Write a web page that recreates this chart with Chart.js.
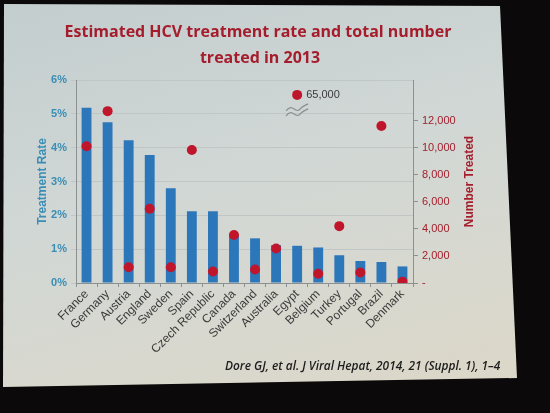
<!DOCTYPE html>
<html><head><meta charset="utf-8">
<script src="https://cdn.jsdelivr.net/npm/chart.js@4.4.0/dist/chart.umd.min.js"></script>
<style>
html,body{margin:0;padding:0;width:550px;height:413px;overflow:hidden;background:#0b0909;}
#slide{position:absolute;left:0;top:0;width:550px;height:413px;
 background: linear-gradient(165deg,#c3cdce 0%,#d0d7d5 40%,#d8d8cf 70%,#ddd7c6 100%);
 clip-path: polygon(4px 4px, 500px 6px, 517px 378px, 3px 387px);}
#wrap{position:absolute;left:0;top:0;width:550px;height:413px;}
#cite{position:absolute;left:225px;top:357px;font:italic 600 11.9px "Open Sans";color:#1c1c1c;white-space:nowrap;}
</style></head>
<body>
<div id="slide"></div>
<div id="wrap"><canvas id="c" width="550" height="413"></canvas></div>
<div id="cite">Dore GJ, et al. J Viral Hepat, 2014, 21 (Suppl. 1), 1–4</div>
<script>
const countries = ['France','Germany','Austria','England','Sweden','Spain','Czech Republic','Canada','Switzerland','Australia','Egypt','Belgium','Turkey','Portugal','Brazil','Denmark'];
const treatmentRate = [5.18, 4.75, 4.22, 3.78, 2.8, 2.12, 2.12, 1.4, 1.32, 1.12, 1.1, 1.05, 0.82, 0.65, 0.62, 0.49];
const numberTreated = [10100, 12700, 1170, 5480, 1170, 9830, 850, 3550, 1000, 2550, 65000, 680, 4200, 780, 11600, 100];
const rateTicks = [0, 1, 2, 3, 4, 5, 6];
const numberTicks = [0, 2000, 4000, 6000, 8000, 10000, 12000];
const numberAxisMax = 15000;
const brokenDisplayValue = 13900;
const titleLines = ['Estimated HCV treatment rate and total number', 'treated in 2013'];

const teal = '#3a8db5';
const darkRed = '#a3202e';
const axisGray = '#8c9090';

const dotValues = numberTreated.map(v => v > numberAxisMax ? brokenDisplayValue : v);

const extras = {
  id: 'extras',
  afterDraw(chart) {
    const ctx = chart.ctx;
    ctx.save();
    ctx.fillStyle = '#a51d2d';
    ctx.font = 'bold 16px "Open Sans"';
    ctx.textAlign = 'center';
    ctx.textBaseline = 'middle';
    ctx.fillText(titleLines[0], 258, 32);
    ctx.fillText(titleLines[1], 260, 58);
    ctx.restore();
  },
  afterDatasetsDraw(chart) {
    const ctx = chart.ctx;
    const meta = chart.getDatasetMeta(1);
    numberTreated.forEach((v, i) => {
      if (v <= numberAxisMax) return;
      const pt = meta.data[i];
      ctx.save();
      ctx.fillStyle = '#3a3a3a';
      ctx.font = '11px "Liberation Sans"';
      ctx.textAlign = 'left';
      ctx.textBaseline = 'middle';
      ctx.fillText(v.toLocaleString('en-US'), pt.x + 9, pt.y);
      ctx.strokeStyle = '#8a8e8e';
      ctx.lineWidth = 1.3;
      for (const dy of [13, 18]) {
        ctx.beginPath();
        const x0 = pt.x - 11, y0 = pt.y + dy + 3;
        ctx.moveTo(x0, y0);
        ctx.bezierCurveTo(x0 + 6, y0 - 9, x0 + 10, y0 + 4, x0 + 14, y0 - 2);
        ctx.bezierCurveTo(x0 + 17, y0 - 5, x0 + 20, y0 - 6, x0 + 22, y0 - 7);
        ctx.stroke();
      }
      ctx.restore();
    });
    const ca = chart.chartArea;
    ctx.save();
    ctx.translate(ca.right + 57, (ca.top + ca.bottom) / 2);
    ctx.rotate(-Math.PI / 2);
    ctx.fillStyle = darkRed;
    ctx.font = 'bold 12px "Liberation Sans"';
    ctx.textAlign = 'center';
    ctx.textBaseline = 'middle';
    ctx.fillText('Number Treated', 0, 0);
    ctx.restore();
  }
};

new Chart(document.getElementById('c'), {
  data: {
    labels: countries,
    datasets: [
      {
        type: 'bar',
        label: 'Treatment Rate',
        data: treatmentRate,
        backgroundColor: '#2c76ba',
        yAxisID: 'y',
        categoryPercentage: 0.9,
        barPercentage: 0.52,
        order: 2
      },
      {
        type: 'line',
        label: 'Number Treated',
        data: dotValues,
        showLine: false,
        pointRadius: 5,
        pointBackgroundColor: '#c0162c',
        pointBorderWidth: 0,
        yAxisID: 'y2',
        order: 1
      }
    ]
  },
  options: {
    responsive: false,
    devicePixelRatio: 1,
    animation: false,
    layout: { padding: { top: 80, left: 0, right: 0, bottom: 0 } },
    plugins: {
      legend: { display: false },
      tooltip: { enabled: false },
      title: { display: false }
    },
    scales: {
      x: {
        type: 'category',
        offset: true,
        grid: { display: true, drawOnChartArea: false, offset: true, color: axisGray, tickLength: 4 },
        border: { color: axisGray },
        ticks: { maxRotation: 45, minRotation: 45, autoSkip: false, color: '#3a3a3a', padding: 0,
                 font: { family: 'Liberation Sans', size: 12 } },
        afterFit(s) { s.height = 130; }
      },
      y: {
        position: 'left',
        min: 0, max: 6,
        afterBuildTicks(s) { s.ticks = rateTicks.map(v => ({ value: v })); },
        ticks: { callback: v => v + '%', color: teal, padding: 4,
                 font: { family: 'Liberation Sans', size: 11, weight: 'bold' } },
        grid: { color: '#c0c6c5', tickLength: 5 },
        border: { color: axisGray },
        title: { display: true, text: 'Treatment Rate', color: teal,
                 font: { family: 'Liberation Sans', size: 12, weight: 'bold' }, padding: { top: 35, bottom: 0 } },
        afterFit(s) { s.width = 76; }
      },
      y2: {
        position: 'right',
        min: 0, max: numberAxisMax,
        afterBuildTicks(s) { s.ticks = numberTicks.map(v => ({ value: v })); },
        ticks: { callback: v => v === 0 ? '-' : v.toLocaleString('en-US'), color: darkRed, padding: 4,
                 font: { family: 'Liberation Sans', size: 11 } },
        grid: { drawOnChartArea: false, color: axisGray, tickLength: 5 },
        border: { color: axisGray },
        afterFit(s) { s.width = 550 - 413; }
      }
    }
  },
  plugins: [extras]
});
</script>
</body></html>
